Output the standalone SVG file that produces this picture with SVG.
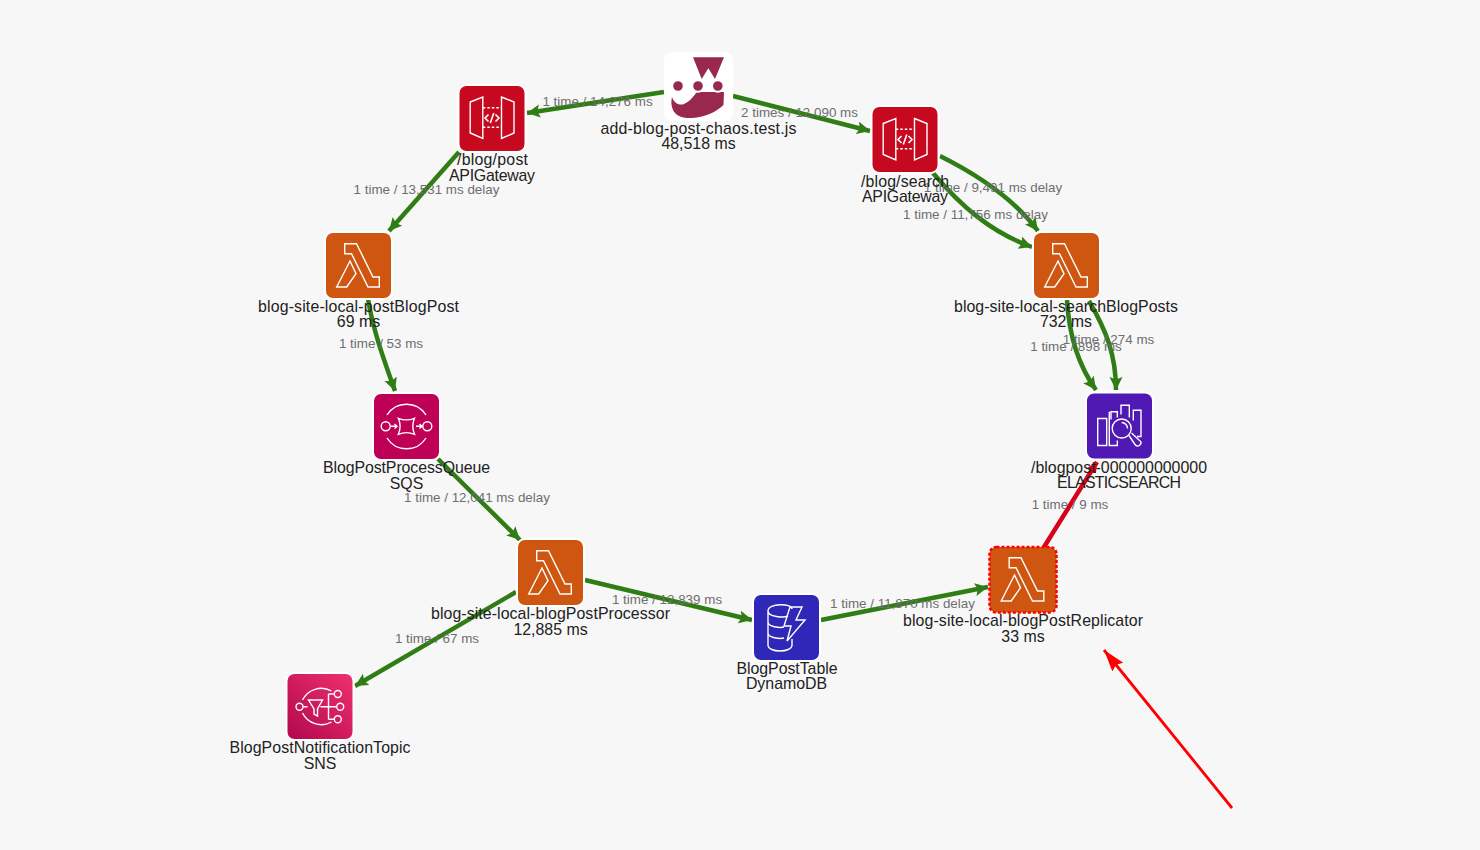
<svg xmlns="http://www.w3.org/2000/svg" width="1480" height="850" viewBox="0 0 1480 850">
<style>
text{font-family:"Liberation Sans",Arial,sans-serif}
.n{font-size:15.9px;fill:#222;text-anchor:middle}
.l{font-size:13.4px;fill:#6e6e6e;text-anchor:middle}
.e{fill:none;stroke:#2f7d14;stroke-width:4.5;marker-end:url(#ga)}
.i{fill:none;stroke:#fff;stroke-width:1.4;stroke-linejoin:miter}
.b{stroke:#fff;stroke-width:2}
</style>
<defs>
<marker id="ga" markerUnits="userSpaceOnUse" markerWidth="15" markerHeight="14" refX="13" refY="6.500" orient="auto"><path d="M0 0L13 6.500L0 13L2.500 6.500Z" fill="#2f7d14"/></marker>
<marker id="ra" markerUnits="userSpaceOnUse" markerWidth="14" markerHeight="14" refX="10" refY="5" orient="auto"><path d="M0 0L10 5L0 10Z" fill="#d8001b"/></marker>
<marker id="rb" markerUnits="userSpaceOnUse" markerWidth="26" markerHeight="16" refX="22" refY="7" orient="auto"><path d="M0 0L22 7L0 14L3 7Z" fill="#f00"/></marker>
<linearGradient id="sns" x1="0" y1="1" x2="1" y2="0"><stop offset="0" stop-color="#b0084d"/><stop offset="1" stop-color="#f0306f"/></linearGradient>
<g id="lam" class="i"><path d="M18.700 10.700H30.500L47 44H53.300V54H42L25.500 20.700H18.700Z"/><path d="M24 28L30 40.700L20.700 54H10.700Z"/></g>
<g id="api" class="i"><path d="M10.700 16.500L23.300 11.500V53L10.700 47.500Z"/><path d="M42 11.500L54.500 16.500V47.500L42 53Z"/><path d="M23.300 22.300H42M23.300 41.700H42" stroke-dasharray="2.500 2"/><path d="M29 29L25.500 32.500L29 36M36 29L39.500 32.500L36 36M34.300 27.500L30.800 37.500" stroke-width="1.600"/></g>
</defs>
<rect width="1480" height="850" fill="#f7f7f7"/>
<g id="connectors">
<path class="e" d="M664 92L527 113"/>
<path class="e" d="M733 96L870 131"/>
<path class="e" d="M459 152L389 231"/>
<path class="e" d="M940 156C980 176 1015 200 1038 231"/>
<path class="e" d="M933 173C960 205 990 232 1032 247"/>
<path class="e" d="M368 299C373 330 384 360 395 391"/>
<path class="e" d="M1067 300C1069 335 1078 365 1096 390"/>
<path class="e" d="M1089 301C1106 330 1116 355 1116 390"/>
<path class="e" d="M438 459L520 540"/>
<path class="e" d="M585 580L752 620"/>
<path class="e" d="M516 592L355 686"/>
<path class="e" d="M821 620L988 587"/>
<path d="M1044 547L1097 462" fill="none" stroke="#d8001b" stroke-width="4.500" marker-end="url(#ra)"/>
<path d="M1232 808L1104 650" fill="none" stroke="#f00" stroke-width="2.800" marker-end="url(#rb)"/>
</g>
<g id="edge-labels">
<text class="l" x="597.500" y="106">1 time / 14,276 ms</text>
<text class="l" x="799.500" y="117">2 times / 12,090 ms</text>
<text class="l" x="426.500" y="194">1 time / 13,531 ms delay</text>
<text class="l" x="993" y="192">1 time / 9,491 ms delay</text>
<text class="l" x="975.500" y="219">1 time / 11,756 ms delay</text>
<text class="l" x="381" y="348">1 time / 53 ms</text>
<text class="l" x="1108.500" y="344">1 time / 274 ms</text>
<text class="l" x="1076" y="351">1 time / 898 ms</text>
<text class="l" x="477" y="502">1 time / 12,041 ms delay</text>
<text class="l" x="1070" y="509">1 time / 9 ms</text>
<text class="l" x="667" y="604">1 time / 12,839 ms</text>
<text class="l" x="902.500" y="608">1 time / 11,870 ms delay</text>
<text class="l" x="437" y="643">1 time / 67 ms</text>
</g>
<g id="jest">
<rect x="664" y="52" width="69" height="69" rx="8" fill="#fff"/>
<path d="M693 57.300H724L715 79L708.300 68.300L701.700 79Z" fill="#99284f"/>
<path d="M672 97C674 103 679 106 684 104C689 102 693 97 697 92L716 92L724 92L723.500 105C716 112 706 117 692 118C682 118.500 676 116 673 110C671 106 671 101 672 97Z" fill="#99284f"/>
<g fill="#99284f" stroke="#fff" stroke-width="2"><circle cx="678" cy="86" r="5.800"/><circle cx="698" cy="86" r="5.800"/><circle cx="717.800" cy="86" r="5.800"/></g>
<text class="n" x="698.500" y="134" textLength="196">add-blog-post-chaos.test.js</text>
<text class="n" x="698.500" y="149">48,518 ms</text>
</g>
<g id="blog-post">
<rect class="b" x="458.500" y="85" width="67" height="67" rx="8" fill="#c7091f"/>
<use href="#api" x="459.500" y="85.500"/>
<text class="n" x="492.500" y="165" textLength="71">/blog/post</text>
<text class="n" x="492" y="181" textLength="86">APIGateway</text>
</g>
<g id="blog-search">
<rect class="b" x="871.500" y="106" width="67" height="67" rx="8" fill="#c7091f"/>
<use href="#api" x="872.500" y="107"/>
<text class="n" x="905" y="187" textLength="88">/blog/search</text>
<text class="n" x="905" y="202" textLength="86">APIGateway</text>
</g>
<g id="postBlogPost">
<rect class="b" x="325" y="232" width="67" height="67" rx="8" fill="#cf5610"/>
<use href="#lam" x="326" y="233"/>
<text class="n" x="358.500" y="312" textLength="201">blog-site-local-postBlogPost</text>
<text class="n" x="358.500" y="327">69 ms</text>
</g>
<g id="searchBlogPosts">
<rect class="b" x="1033" y="232" width="67" height="67" rx="8" fill="#cf5610"/>
<use href="#lam" x="1034" y="233"/>
<text class="n" x="1066" y="312" textLength="224">blog-site-local-searchBlogPosts</text>
<text class="n" x="1066" y="327">732 ms</text>
</g>
<g id="sqs">
<rect class="b" x="373" y="393" width="67" height="67" rx="8" fill="#bf0057"/>
<g class="i" transform="translate(374 394)">
<circle cx="11.700" cy="32.300" r="4.500"/><circle cx="53.300" cy="32.300" r="4.500"/>
<path d="M13 21A23 23 0 0 1 52 21M13 44A23 23 0 0 0 52 44"/>
<path d="M24.300 24.300Q32.500 27.500 40.500 24.300Q37 32.300 40.500 40.300Q32.500 37 24.300 40.300Q28 32.300 24.300 24.300Z"/>
<path d="M17 32.300H23M20.500 30L23 32.300L20.500 34.600M42 32.300H48M45.500 30L48 32.300L45.500 34.600"/>
</g>
<text class="n" x="406.500" y="473" textLength="167">BlogPostProcessQueue</text>
<text class="n" x="406.500" y="489">SQS</text>
</g>
<g id="elasticsearch">
<rect class="b" x="1086" y="392.500" width="67" height="67" rx="8" fill="#5019b4"/>
<g class="i" transform="translate(1087 393.500)">
<path d="M19.700 25H10.700V52H19.700ZM22.300 18.300V52H30.300V47M24 26V18.300H30.300V24M34 21V11.700H42.300V24M46.300 27V16.700H54V43H50"/>
<circle cx="34.700" cy="35" r="9.500"/><path d="M34.700 29A6 6 0 0 1 40.500 35"/>
<path d="M42 42L48 51Q50 53.500 52.500 52L54 50Q54.500 48 52 46.500L44.500 39.500"/>
</g>
<text class="n" x="1119" y="473" textLength="176">/blogpost-000000000000</text>
<text class="n" x="1119" y="488" textLength="124">ELASTICSEARCH</text>
</g>
<g id="blogPostProcessor">
<rect class="b" x="517" y="539" width="67" height="67" rx="8" fill="#cf5610"/>
<use href="#lam" x="518" y="540"/>
<text class="n" x="550.500" y="619" textLength="239">blog-site-local-blogPostProcessor</text>
<text class="n" x="550.500" y="635">12,885 ms</text>
</g>
<g id="dynamodb">
<rect class="b" x="753" y="594" width="67" height="67" rx="8" fill="#2f27b8"/>
<g class="i" transform="translate(754 595)">
<path d="M14 16C14 8 38 8 38 14M14 16C14 22 30 23 34 21M14 16V50C14 58 38 58 38 50V44M14 27C14 32 26 33 30 32M14 38C14 43 26 44 30 43"/>
<path d="M36 12H48L42 25H51L33 46L37 31H30Z"/>
</g>
<text class="n" x="787" y="674" textLength="101">BlogPostTable</text>
<text class="n" x="786.500" y="689">DynamoDB</text>
</g>
<g id="blogPostReplicator">
<rect x="989.500" y="547" width="67" height="65.500" rx="7" fill="#cf5610" stroke="#f00" stroke-width="2.500" stroke-dasharray="3 2"/>
<use href="#lam" x="990.500" y="547"/>
<text class="n" x="1023" y="626" textLength="240">blog-site-local-blogPostReplicator</text>
<text class="n" x="1023" y="642">33 ms</text>
</g>
<g id="sns-topic">
<rect class="b" x="286.500" y="673" width="67" height="67" rx="8" fill="url(#sns)"/>
<g class="i" transform="translate(287.500 674)">
<circle cx="12" cy="32.700" r="3.500"/><circle cx="50.300" cy="20" r="3.500"/><circle cx="52.700" cy="32.700" r="3.500"/><circle cx="50.300" cy="45.300" r="3.500"/>
<path d="M15 26A21 21 0 0 1 44 17M15 39A21 21 0 0 0 44 48"/>
<path d="M21 26H35L30 35V42L26.500 40V35Z"/>
<path d="M15.500 32.700H20M33 32.700H49M41 20H47M41 45.300H47M41 20V45.300"/>
</g>
<text class="n" x="320" y="753" textLength="181">BlogPostNotificationTopic</text>
<text class="n" x="320" y="769">SNS</text>
</g>
</svg>
